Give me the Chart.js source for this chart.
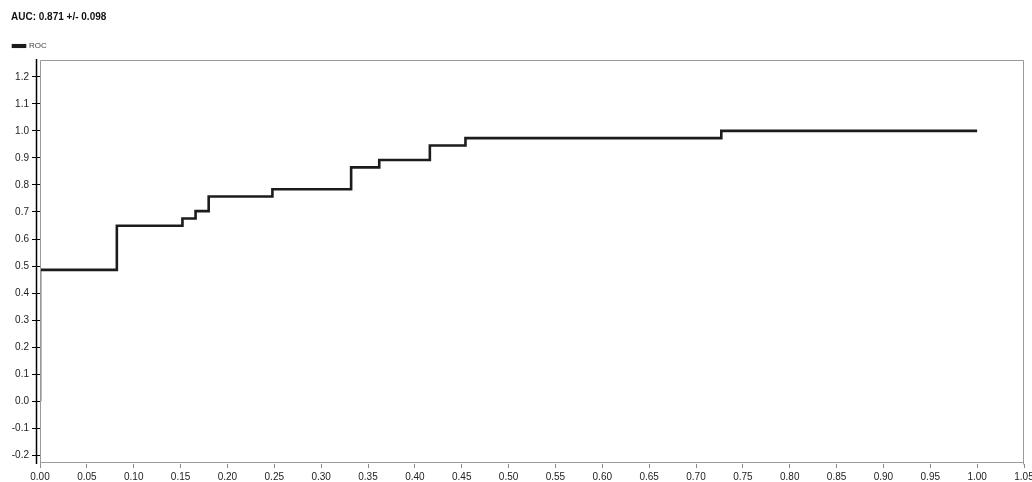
<!DOCTYPE html>
<html lang="en">
<head>
<meta charset="UTF-8">
<title>ROC</title>
<script src="https://cdn.jsdelivr.net/npm/chart.js@4.4.1/dist/chart.umd.min.js"></script>
<style>
  html, body { margin: 0; padding: 0; background: #fff; }
  #wrap { width: 1032px; height: 482px; }
</style>
</head>
<body>
<div id="wrap"><canvas id="roc"></canvas></div>
<script>
// averaged ROC curve, step points (false positive rate -> true positive rate)
const fprValues = [0.000, 0.000, 0.082, 0.152, 0.166, 0.180, 0.248, 0.332, 0.362, 0.416, 0.454, 0.727, 1.000];
const tprValues = [0.000, 0.486, 0.649, 0.676, 0.703, 0.757, 0.784, 0.865, 0.892, 0.946, 0.973, 1.000, 1.000];
const xTickValues = [0, 0.05, 0.1, 0.15, 0.2, 0.25, 0.3, 0.35, 0.4, 0.45, 0.5, 0.55, 0.6, 0.65, 0.7, 0.75, 0.8, 0.85, 0.9, 0.95, 1.0, 1.05];
const yTickValues = [-0.2, -0.1, 0, 0.1, 0.2, 0.3, 0.4, 0.5, 0.6, 0.7, 0.8, 0.9, 1.0, 1.1, 1.2];
const aucLabel = 'AUC: 0.871 +/- 0.098';

const points = fprValues.map((x, i) => ({ x: x, y: tprValues[i] }));

// gray frame round the plot area plus the black value axis just left of it
const framePlugin = {
  id: 'frame',
  afterDraw(chart) {
    const { ctx, chartArea: a } = chart;
    ctx.save();
    ctx.strokeStyle = '#9a9a9a';
    ctx.lineWidth = 1;
    ctx.beginPath();
    ctx.moveTo(a.left + 0.5, a.bottom + 0.5);
    ctx.lineTo(a.left + 0.5, a.top + 0.5);
    ctx.lineTo(a.right - 0.5, a.top + 0.5);
    ctx.lineTo(a.right - 0.5, a.bottom + 0.5);
    ctx.stroke();
    ctx.beginPath();
    ctx.moveTo(a.left, a.bottom - 1.5);
    ctx.lineTo(a.right, a.bottom - 1.5);
    ctx.stroke();
    ctx.strokeStyle = '#000';
    ctx.lineWidth = 1.5;
    ctx.beginPath();
    ctx.moveTo(a.left - 3.5, a.top - 1);
    ctx.lineTo(a.left - 3.5, a.bottom);
    ctx.stroke();
    ctx.restore();
  }
};

const chart = new Chart(document.getElementById('roc'), {
  type: 'line',
  data: {
    datasets: [{
      label: 'ROC',
      data: points,
      stepped: 'before',
      borderColor: '#1c1c1c',
      backgroundColor: '#1c1c1c',
      borderWidth: 2.6,
      pointRadius: 0,
      fill: false
    }]
  },
  options: {
    responsive: true,
    maintainAspectRatio: false,
    animation: false,
    layout: { padding: { left: 11, right: 8, top: 7, bottom: 0 } },
    plugins: {
      title: {
        display: true,
        text: aucLabel,
        align: 'start',
        color: '#111',
        font: { family: 'Liberation Sans, Arial', size: 10, weight: 'bold' },
        padding: { top: 4, bottom: 17 }
      },
      legend: {
        display: true,
        align: 'start',
        labels: {
          color: '#444',
          font: { family: 'Liberation Sans, Arial', size: 8 },
          boxWidth: 12,
          boxHeight: 1.5,
          padding: 2
        }
      },
      tooltip: { enabled: false }
    },
    scales: {
      x: {
        type: 'linear',
        min: 0,
        max: 1.05,
        afterBuildTicks: s => { s.ticks = xTickValues.map(v => ({ value: v })); },
        afterFit: s => { s.height = 18; s.paddingRight = 0; },
        grid: { drawOnChartArea: false, drawTicks: true, tickLength: 4, color: '#8a8a8a' },
        border: { display: false },
        ticks: {
          color: '#222',
          font: { family: 'Liberation Sans, Arial', size: 10 },
          padding: 3,
          maxRotation: 0,
          autoSkip: false,
          callback: v => v.toFixed(2)
        }
      },
      y: {
        type: 'linear',
        min: -0.232,
        max: 1.262,
        afterBuildTicks: s => { s.ticks = yTickValues.map(v => ({ value: v })); },
        afterFit: s => { s.width = 29; },
        grid: { drawOnChartArea: false, drawTicks: true, tickLength: 8, color: '#000' },
        border: { display: false },
        ticks: {
          color: '#222',
          font: { family: 'Liberation Sans, Arial', size: 10 },
          padding: 3,
          autoSkip: false,
          callback: v => v.toFixed(1)
        }
      }
    }
  },
  plugins: [framePlugin]
});
</script>
</body>
</html>
